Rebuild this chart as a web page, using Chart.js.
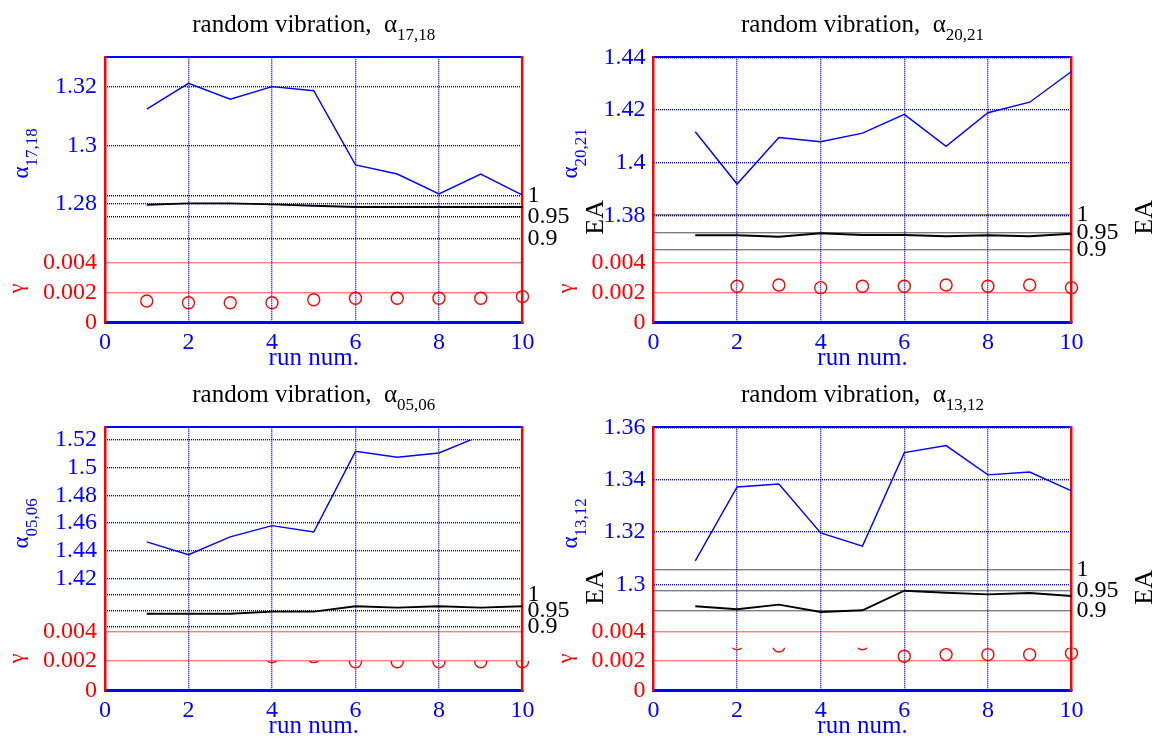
<!DOCTYPE html>
<html>
<head>
<meta charset="utf-8">
<script src="https://cdn.jsdelivr.net/npm/chart.js@4.4.1/dist/chart.umd.min.js"></script>
<style>
html,body{margin:0;padding:0;background:#fff;overflow:hidden;}
#wrap{position:relative;width:1157px;height:739px;overflow:hidden;background:#fff;}
#wrap canvas{position:absolute;left:0;top:0;}
</style>
</head>
<body>
<div id="wrap"></div>
<script>
// ---------------- data ----------------
const runs = [1, 2, 3, 4, 5, 6, 7, 8, 9, 10];
const xTicks = [0, 2, 4, 6, 8, 10];
const gammaTicks = [0, 0.002, 0.004];
const eaTicks = [0.9, 0.95, 1];

// panel 1 : alpha_{17,18}
const alpha1 = [1.3123, 1.3211, 1.3157, 1.3200, 1.3186, 1.2933, 1.2902, 1.2834, 1.2902, 1.2830];
const ea1    = [0.9795, 0.9827, 0.9827, 0.9803, 0.9770, 0.9740, 0.9740, 0.9740, 0.9740, 0.9740];
const gamma1 = [0.00146, 0.00134, 0.00134, 0.00134, 0.00154, 0.00164, 0.00164, 0.00164, 0.00164, 0.00175];
const alphaTicks1 = [1.28, 1.3, 1.32];

// panel 2 : alpha_{20,21}
const alpha2 = [1.4118, 1.3920, 1.4096, 1.4080, 1.4113, 1.4184, 1.4063, 1.4190, 1.4230, 1.4346];
const ea2    = [0.9415, 0.9415, 0.9375, 0.9472, 0.9424, 0.9424, 0.9386, 0.9415, 0.9386, 0.9461];
const gamma2 = [null, 0.00244, 0.00253, 0.00235, 0.00244, 0.00244, 0.00253, 0.00244, 0.00253, 0.00235];
const alphaTicks2 = [1.38, 1.4, 1.42, 1.44];

// panel 3 : alpha_{05,06}
const alpha3 = [1.4463, 1.4371, 1.4499, 1.4581, 1.4535, 1.5118, 1.5075, 1.5106, 1.5231, null];
const ea3    = [0.9410, 0.9410, 0.9410, 0.9476, 0.9476, 0.9643, 0.9600, 0.9643, 0.9600, 0.9643];
const gamma3 = [null, null, null, 0.00230, 0.00230, 0.00196, 0.00196, 0.00196, 0.00196, 0.00196];
const alphaTicks3 = [1.42, 1.44, 1.46, 1.48, 1.5, 1.52];

// panel 4 : alpha_{13,12}
const alpha4 = [1.3089, 1.3372, 1.3383, 1.3196, 1.3146, 1.3503, 1.3530, 1.3418, 1.3429, 1.3357];
const ea4    = [0.9108, 0.9034, 0.9148, 0.8968, 0.9009, 0.9491, 0.9442, 0.9402, 0.9435, 0.9361];
const gamma4 = [null, 0.00317, 0.00302, null, 0.00317, 0.00233, 0.00244, 0.00244, 0.00244, 0.00253];
const alphaTicks4 = [1.3, 1.32, 1.34, 1.36];

// ---------------- styling / layout ----------------
const FONT = "'Liberation Serif','Times New Roman',serif";
Chart.defaults.font.family = FONT;
const BLUE = '#0000ff', RED = '#ff0000', BLACK = '#000000', NONE = 'rgba(0,0,0,0)';
const CW = 1157, CH = 800;
const AXW_L = 100, AXW_R = 70, AXH_B = 51;
const GRID_W = 1.4, DOT = [1, 1];

function pts(arr) { return runs.map((x, i) => ({ x: x, y: arr[i] })); }

function drawRich(ctx, parts, x, y, rot, color) {
  ctx.save();
  ctx.translate(x, y);
  if (rot) ctx.rotate(rot);
  ctx.fillStyle = color;
  ctx.textBaseline = 'alphabetic';
  ctx.textAlign = 'left';
  let total = 0;
  parts.forEach(p => { ctx.font = p.size + 'px ' + FONT; p.w = ctx.measureText(p.t).width; total += p.w; });
  let cx = -total / 2;
  parts.forEach(p => { ctx.font = p.size + 'px ' + FONT; ctx.fillText(p.t, cx, p.dy || 0); cx += p.w; });
  ctx.restore();
}

const richText = {
  id: 'richText',
  afterDraw(chart, args, opts) {
    const a = chart.chartArea, ctx = chart.ctx;
    const sub = opts.sub;
    drawRich(ctx, [{ t: 'random vibration,  \u03b1', size: 25 }, { t: sub, size: 17, dy: 8 }],
      (a.left + a.right) / 2, a.top - 25.6, 0, BLACK);
    drawRich(ctx, [{ t: '\u03b1', size: 23 }, { t: sub, size: 17, dy: 9 }],
      a.left - 77, a.top + 96, -Math.PI / 2, BLUE);
    drawRich(ctx, [{ t: 'EA', size: 26 }], a.right + 80, a.top + 160, -Math.PI / 2, BLACK);
  }
};
const gammaLabel = {
  id: 'gammaLabel',
  afterDraw(chart) {
    const a = chart.chartArea;
    drawRich(chart.ctx, [{ t: '\u03b3', size: 22 }], a.left - 82, a.top + 231, -Math.PI / 2, RED);
  }
};

// hides the part of a dataset lying above a value of one of its scales
const occluder = {
  id: 'occluder',
  beforeDatasetDraw(chart, args) {
    const ds = chart.data.datasets[args.index];
    if (!ds.hideAbove) return;
    const y = chart.scales[ds.hideAbove.scale].getPixelForValue(ds.hideAbove.value);
    const a = chart.chartArea, ctx = chart.ctx;
    ctx.save();
    ctx.beginPath();
    ctx.rect(a.left - 20, y, a.right - a.left + 40, chart.height - y);
    ctx.clip();
  },
  afterDatasetDraw(chart, args) {
    const ds = chart.data.datasets[args.index];
    if (ds.hideAbove) chart.ctx.restore();
  }
};

function setTicks(list) { return s => { s.ticks = list.map(v => ({ value: v })); }; }
const xGridColor = c => (c.tick && (c.tick.value === 0 || c.tick.value === 10)) ? NONE : BLUE;
const gGridColor = c => (c.tick && c.tick.value === 0) ? NONE : RED;

function newCanvas() {
  const c = document.createElement('canvas');
  c.width = CW; c.height = CH;
  document.getElementById('wrap').appendChild(c);
  return c.getContext('2d');
}

function panel(p) {
  // main layer: alpha (left, blue) + EA (right, black) + run axis
  new Chart(newCanvas(), {
    type: 'line',
    data: { datasets: [
      { label: 'EA', data: pts(p.ea), yAxisID: 'yE', xAxisID: 'x', borderColor: BLACK, borderWidth: 1.9,
        pointRadius: 0, tension: 0, fill: false, clip: false },
      { label: 'alpha', data: pts(p.alpha), yAxisID: 'yA', xAxisID: 'x', borderColor: BLUE, borderWidth: 1.4,
        pointRadius: 0, tension: 0, fill: false, clip: false, spanGaps: false,
        hideAbove: p.alphaHide != null ? { scale: 'yA', value: p.alphaHide } : null }
    ] },
    plugins: [richText, occluder],
    options: {
      responsive: false, animation: false, devicePixelRatio: 1, events: [],
      layout: { padding: { left: p.left - AXW_L, right: CW - p.right - AXW_R, top: p.top, bottom: CH - p.bottom - AXH_B } },
      plugins: { legend: { display: false }, tooltip: { enabled: false }, richText: { sub: p.sub } },
      scales: {
        x: {
          type: 'linear', position: 'bottom', min: 0, max: 10,
          afterBuildTicks: setTicks(xTicks),
          afterFit: s => { s.height = AXH_B; },
          ticks: { color: BLUE, font: { size: 24 }, padding: 6, autoSkip: false, maxRotation: 0, callback: v => String(v) },
          grid: { color: xGridColor, lineWidth: GRID_W, drawTicks: false },
          border: { display: true, color: BLUE, width: 3, dash: DOT },
          title: { display: true, text: 'run num.', color: BLUE, font: { size: 25 }, padding: { top: 0, bottom: 0 } }
        },
        xTop: {
          type: 'linear', position: 'top', min: 0, max: 10,
          afterFit: s => { s.height = 0; },
          ticks: { display: false },
          grid: { display: false, drawTicks: false },
          border: { display: true, color: BLUE, width: 2 }
        },
        yA: {
          type: 'linear', position: 'left', min: p.alphaRange[0], max: p.alphaRange[1],
          afterBuildTicks: setTicks(p.alphaTicks),
          afterFit: s => { s.width = AXW_L; },
          ticks: { color: BLUE, font: { size: 24 }, padding: 8, autoSkip: false, callback: v => String(v) },
          grid: { color: BLUE, lineWidth: GRID_W, drawTicks: false },
          border: { display: false, dash: DOT }
        },
        yE: {
          type: 'linear', position: 'right', min: p.eaRange[0], max: p.eaRange[1],
          afterBuildTicks: setTicks(eaTicks),
          afterFit: s => { s.width = AXW_R; },
          ticks: { color: BLACK, font: { size: 24 }, padding: 5, autoSkip: false, callback: v => String(v) },
          grid: { color: BLACK, lineWidth: GRID_W, drawTicks: false },
          border: { display: true, color: RED, width: 2.5, dash: DOT }
        }
      }
    }
  });
  // gamma layer (red), same plot box
  new Chart(newCanvas(), {
    type: 'line',
    data: { datasets: [
      { label: 'gamma', data: pts(p.gamma), yAxisID: 'yG', xAxisID: 'xG', showLine: false,
        borderColor: RED, backgroundColor: NONE, pointRadius: 6, pointBorderWidth: 1.4,
        pointBorderColor: RED, pointBackgroundColor: NONE, clip: false,
        hideAbove: p.gammaHide != null ? { scale: 'yG', value: p.gammaHide } : null }
    ] },
    plugins: [gammaLabel, occluder],
    options: {
      responsive: false, animation: false, devicePixelRatio: 1, events: [],
      layout: { padding: { left: p.left - AXW_L, right: CW - p.right, top: p.top, bottom: CH - p.bottom } },
      plugins: { legend: { display: false }, tooltip: { enabled: false } },
      scales: {
        xG: { type: 'linear', position: 'bottom', min: 0, max: 10, display: false },
        yG: {
          type: 'linear', position: 'left', min: 0, max: 0.0178,
          afterBuildTicks: setTicks(gammaTicks),
          afterFit: s => { s.width = AXW_L; },
          ticks: { color: RED, font: { size: 24 }, padding: 8, autoSkip: false, callback: v => String(v) },
          grid: { color: gGridColor, lineWidth: GRID_W, drawTicks: false },
          border: { display: true, color: RED, width: 2.5, dash: DOT }
        }
      }
    }
  });
}

panel({ sub: '17,18', left: 105, right: 522.5, top: 57.3, bottom: 322.7,
  alpha: alpha1, ea: ea1, gamma: gamma1, alphaTicks: alphaTicks1,
  alphaRange: [1.2395, 1.33], eaRange: [0.7005, 1.328], alphaHide: null, gammaHide: null });
panel({ sub: '20,21', left: 653.5, right: 1071.5, top: 57.3, bottom: 322.7,
  alpha: alpha2, ea: ea2, gamma: gamma2, alphaTicks: alphaTicks2,
  alphaRange: [1.3395, 1.44], eaRange: [0.6896, 1.4545], alphaHide: null, gammaHide: null });
panel({ sub: '05,06', left: 105, right: 522.5, top: 427.3, bottom: 690.7,
  alpha: alpha3, ea: ea3, gamma: gamma3, alphaTicks: alphaTicks3,
  alphaRange: [1.3387, 1.5292], eaRange: [0.698, 1.529], alphaHide: 1.52, gammaHide: 0.00201 });
panel({ sub: '13,12', left: 653.5, right: 1071.5, top: 427.3, bottom: 690.7,
  alpha: alpha4, ea: ea4, gamma: gamma4, alphaTicks: alphaTicks4,
  alphaRange: [1.2593, 1.36], eaRange: [0.7034, 1.3506], alphaHide: null, gammaHide: 0.0029 });
</script>
</body>
</html>
